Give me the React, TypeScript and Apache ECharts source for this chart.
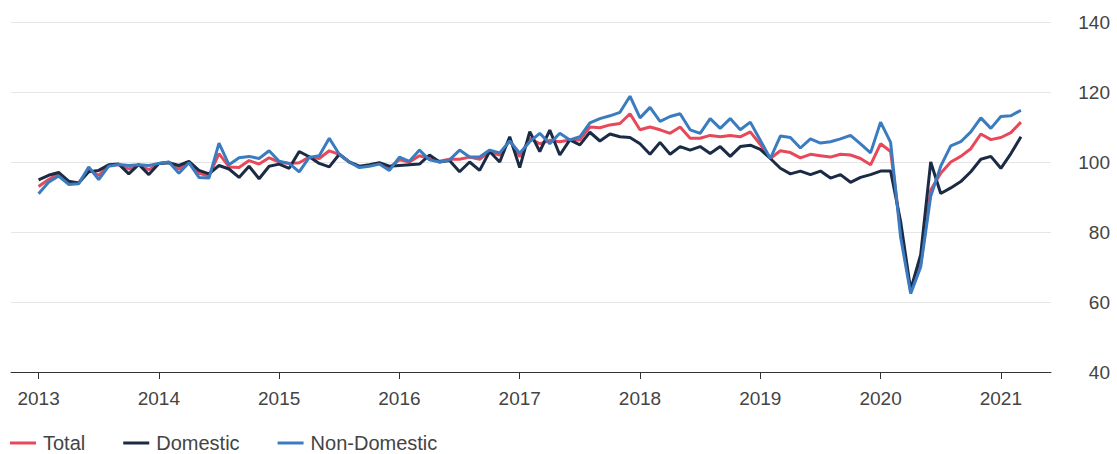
import React, { useEffect, useRef } from "react";
import * as echarts from "echarts";

// Month index 0 = Jan 2013, one value per month through Mar 2021
const yearLabels = ["2013", "2014", "2015", "2016", "2017", "2018", "2019", "2020", "2021"];
const yearTickMonths = [0, 12, 24, 36, 48, 60, 72, 84, 96];
const yTicks = [40, 60, 80, 100, 120, 140];

const total = [
  93.0, 95.0, 96.6, 94.2, 94.0, 97.8, 96.2, 99.0, 99.3, 98.0, 99.2, 97.8,
  99.6, 99.9, 98.0, 100.0, 96.8, 96.0, 102.4, 98.6, 98.4, 100.4, 99.4, 101.2,
  100.0, 99.6, 99.8, 101.4, 101.0, 103.2, 102.2, 100.0, 98.6, 99.0, 99.6, 98.4,
  100.6, 100.0, 101.8, 101.0, 100.2, 100.8, 100.8, 101.4, 100.8, 103.0, 102.0, 106.2,
  101.5, 106.8, 105.2, 106.2, 105.8, 106.3, 106.3, 110.0, 109.8, 110.6, 111.0, 113.8,
  109.2, 110.0, 109.2, 108.2, 110.0, 106.8, 106.8, 107.6, 107.2, 107.6, 107.2, 108.6,
  105.0, 101.0, 103.2, 102.7, 101.2, 102.2, 101.8, 101.4, 102.2, 102.0, 101.0, 99.2,
  105.2, 103.0, 80.5, 63.0, 70.8, 92.0, 96.8, 100.0, 101.6, 103.8, 108.0, 106.4,
  107.0, 108.4, 111.4,
];

const domestic = [
  94.9, 96.2, 97.0, 94.5, 94.0, 97.2, 97.6, 99.2, 99.4, 96.6, 99.3, 96.4,
  99.6, 99.8, 99.0, 100.2, 97.6, 96.6, 99.0, 98.0, 95.6, 98.8, 95.2, 98.8,
  99.4, 98.2, 103.0, 101.5, 99.6, 98.6, 102.2, 100.0, 98.8, 99.2, 99.8, 98.8,
  99.0, 99.2, 99.4, 102.0, 100.0, 100.4, 97.2, 100.0, 97.6, 103.0, 100.0, 107.2,
  98.4, 108.7, 103.0, 109.1, 102.0, 106.3, 104.9, 108.5, 106.0, 108.0, 107.2, 107.0,
  105.2, 102.2, 105.6, 102.2, 104.4, 103.4, 104.4, 102.4, 104.4, 101.6, 104.4, 104.8,
  103.6, 101.0, 98.2, 96.6, 97.4, 96.4, 97.4, 95.4, 96.4, 94.2, 95.6, 96.4,
  97.4, 97.4, 83.0, 63.5, 73.5, 100.0, 91.0, 92.6, 94.4, 97.2, 100.8, 101.6,
  98.2, 102.4, 107.2,
];

const nonDomestic = [
  90.9, 94.2, 96.0, 93.6, 93.8, 98.6, 95.0, 98.8, 99.3, 99.0, 99.2, 99.0,
  99.6, 100.0, 96.8, 99.8, 95.6, 95.4, 105.4, 99.2, 101.2, 101.6, 101.0, 103.2,
  100.2, 99.6, 97.2, 101.3, 101.8, 106.8, 102.2, 100.0, 98.4, 98.8, 99.4, 97.6,
  101.4, 100.2, 103.4, 100.6, 100.0, 100.6, 103.4, 101.4, 101.4, 103.4, 102.6, 106.0,
  102.5, 105.8, 108.2, 105.2, 108.2, 106.3, 107.2, 111.2, 112.4, 113.2, 114.2, 118.8,
  112.6, 115.6, 111.6, 113.0, 113.8, 109.2, 108.2, 112.4, 109.6, 112.4, 109.2, 111.4,
  106.2, 101.0, 107.4, 107.0, 104.0, 106.6, 105.4, 105.8, 106.6, 107.6, 105.2, 102.6,
  111.4, 105.6, 78.5, 62.4, 70.0, 90.2, 98.8, 104.6, 105.8, 108.6, 112.6, 109.6,
  113.0, 113.2, 114.8,
];

const toPairs = (arr: number[]) => arr.map((v, i) => [i, v]);

export default function App() {
  const ref = useRef<HTMLDivElement>(null);
  useEffect(() => {
    if (!ref.current) return;
    const chart = echarts.init(ref.current, null, { renderer: "svg" });
    const font = "'Liberation Sans', Arial, sans-serif";
    chart.setOption({
      animation: false,
      backgroundColor: "#ffffff",
      textStyle: { fontFamily: font },
      grid: { left: 11, right: 66, top: 22, bottom: 82 },
      legend: {
        left: 10,
        top: 433,
        padding: 0,
        icon: "rect",
        itemWidth: 26,
        itemHeight: 3,
        itemGap: 38,
        textStyle: { fontSize: 20, color: "#444", fontFamily: font, padding: [0, 0, 0, 2] },
        data: ["Total", "Domestic", "Non-Domestic"],
      },
      xAxis: {
        type: "value",
        min: -2.75,
        max: 101,
        splitLine: { show: false },
        axisLine: { show: true, lineStyle: { color: "#333", width: 1 } },
        axisTick: {
          show: true,
          customValues: yearTickMonths,
          length: 7,
          lineStyle: { color: "#333" },
        },
        axisLabel: {
          customValues: yearTickMonths,
          formatter: (v: number) => yearLabels[yearTickMonths.indexOf(Math.round(v))] ?? "",
          fontSize: 19,
          color: "#444",
          margin: 17,
          fontFamily: font,
        },
      },
      yAxis: {
        type: "value",
        position: "right",
        min: 40,
        max: 140,
        interval: 20,
        axisLine: { show: false },
        axisTick: { show: false },
        splitLine: { show: true, lineStyle: { color: "#e6e6e6", width: 1 } },
        axisLabel: {
          customValues: yTicks,
          fontSize: 19,
          color: "#444",
          align: "right",
          margin: 59,
          fontFamily: font,
        },
      },
      series: [
        {
          name: "Total",
          type: "line",
          data: toPairs(total),
          showSymbol: false,
          lineStyle: { color: "#e8485a", width: 3 },
          itemStyle: { color: "#e8485a" },
        },
        {
          name: "Domestic",
          type: "line",
          data: toPairs(domestic),
          showSymbol: false,
          lineStyle: { color: "#1b2b45", width: 3 },
          itemStyle: { color: "#1b2b45" },
        },
        {
          name: "Non-Domestic",
          type: "line",
          data: toPairs(nonDomestic),
          showSymbol: false,
          lineStyle: { color: "#3b7cc0", width: 3 },
          itemStyle: { color: "#3b7cc0" },
        },
      ],
    });
    return () => chart.dispose();
  }, []);
  return (
    <div
      ref={ref}
      style={{ position: "fixed", left: 0, top: 0, width: 1117, height: 454 }}
    />
  );
}
